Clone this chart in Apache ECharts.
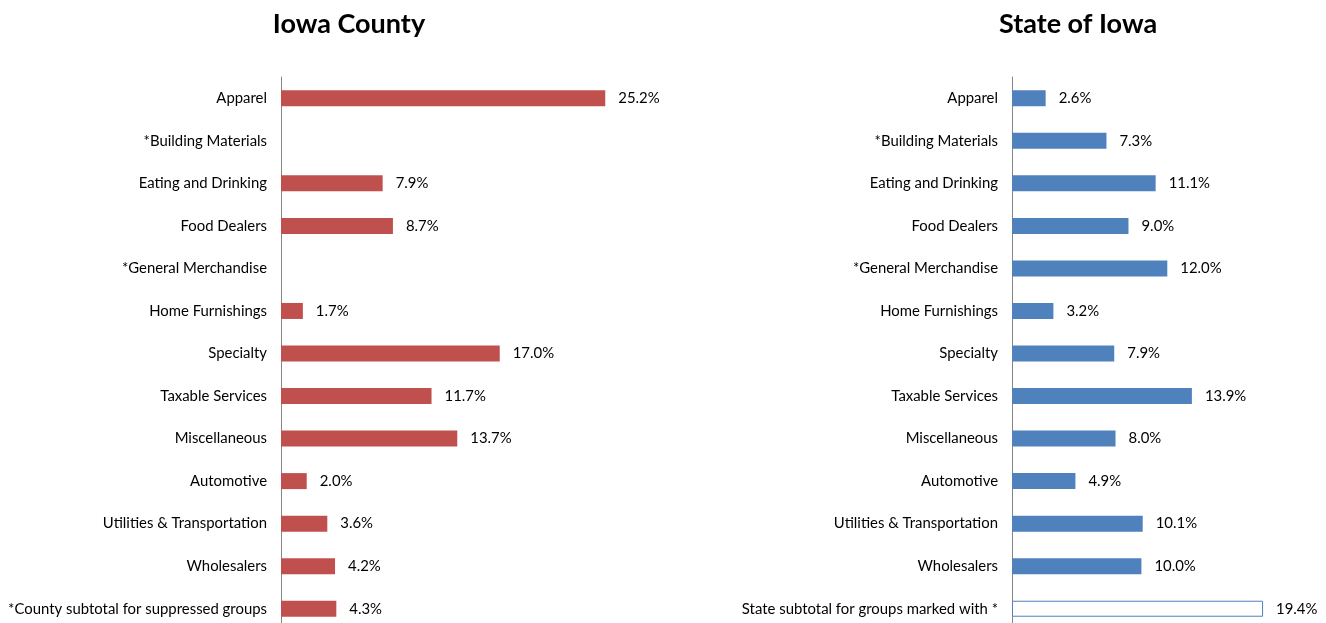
<!DOCTYPE html>
<html>
<head>
<meta charset="utf-8">
<script src="https://cdn.jsdelivr.net/npm/echarts@6/dist/echarts.min.js"></script>
<style>
  html, body { margin: 0; padding: 0; background: #fff; }
  #chart { width: 1326px; height: 623px; }
</style>
</head>
<body>
<div id="chart"></div>
<script>
// Retail sales share by business group
const countyCategories = [
  'Apparel', '*Building Materials', 'Eating and Drinking', 'Food Dealers',
  '*General Merchandise', 'Home Furnishings', 'Specialty', 'Taxable Services',
  'Miscellaneous', 'Automotive', 'Utilities & Transportation', 'Wholesalers',
  '*County subtotal for suppressed groups'
];
const stateCategories = [
  'Apparel', '*Building Materials', 'Eating and Drinking', 'Food Dealers',
  '*General Merchandise', 'Home Furnishings', 'Specialty', 'Taxable Services',
  'Miscellaneous', 'Automotive', 'Utilities & Transportation', 'Wholesalers',
  'State subtotal for groups marked with *'
];
// null = suppressed group (no value shown)
const countyValues = [25.2, null, 7.9, 8.7, null, 1.7, 17.0, 11.7, 13.7, 2.0, 3.6, 4.2, 4.3];
const stateValues = [2.6, 7.3, 11.1, 9.0, 12.0, 3.2, 7.9, 13.9, 8.0, 4.9, 10.1, 10.0, 19.4];

const FONT = 'Lato, "Open Sans", sans-serif';
const RED = '#C0504D';
const BLUE = '#4F81BD';
const LABEL_SIZE = 14.9;

const pct = p => p.value == null ? '' : p.value.toFixed(1) + '%';

const stateData = stateValues.map((v, i) =>
  i === stateValues.length - 1
    ? { value: v, itemStyle: { color: '#ffffff', borderColor: BLUE, borderWidth: 1 } }
    : v
);

function catAxis(gridIndex, cats) {
  return {
    type: 'category',
    gridIndex,
    data: cats,
    inverse: true,
    axisLine: { show: true, lineStyle: { color: '#868686', width: 1 } },
    axisTick: { show: false },
    axisLabel: { color: '#000', fontFamily: FONT, fontSize: LABEL_SIZE, margin: 14 }
  };
}

const chart = echarts.init(document.getElementById('chart'), null, { renderer: 'canvas' });
chart.setOption({
  animation: false,
  backgroundColor: '#ffffff',
  title: [
    { text: 'Iowa County', left: 344, top: 6, textAlign: 'center',
      textStyle: { fontFamily: FONT, fontSize: 27, fontWeight: 'bold', color: '#000' } },
    { text: 'State of Iowa', left: 1073, top: 6, textAlign: 'center',
      textStyle: { fontFamily: FONT, fontSize: 27, fontWeight: 'bold', color: '#000' } }
  ],
  grid: [
    { left: 281, top: 77, width: 386, height: 553, containLabel: false, outerBoundsMode: 'none' },
    { left: 1012, top: 77, width: 310.6, height: 553, containLabel: false, outerBoundsMode: 'none' }
  ],
  xAxis: [
    { type: 'value', gridIndex: 0, min: 0, max: 30, show: false },
    { type: 'value', gridIndex: 1, min: 0, max: 24, show: false }
  ],
  yAxis: [catAxis(0, countyCategories), catAxis(1, stateCategories)],
  series: [
    {
      type: 'bar', xAxisIndex: 0, yAxisIndex: 0,
      data: countyValues, barWidth: 16,
      itemStyle: { color: RED },
      label: { show: true, position: 'right', distance: 13, formatter: pct,
               color: '#000', fontFamily: FONT, fontSize: LABEL_SIZE }
    },
    {
      type: 'bar', xAxisIndex: 1, yAxisIndex: 1,
      data: stateData, barWidth: 16,
      itemStyle: { color: BLUE },
      label: { show: true, position: 'right', distance: 13, formatter: pct,
               color: '#000', fontFamily: FONT, fontSize: LABEL_SIZE }
    }
  ]
});
</script>
</body>
</html>
